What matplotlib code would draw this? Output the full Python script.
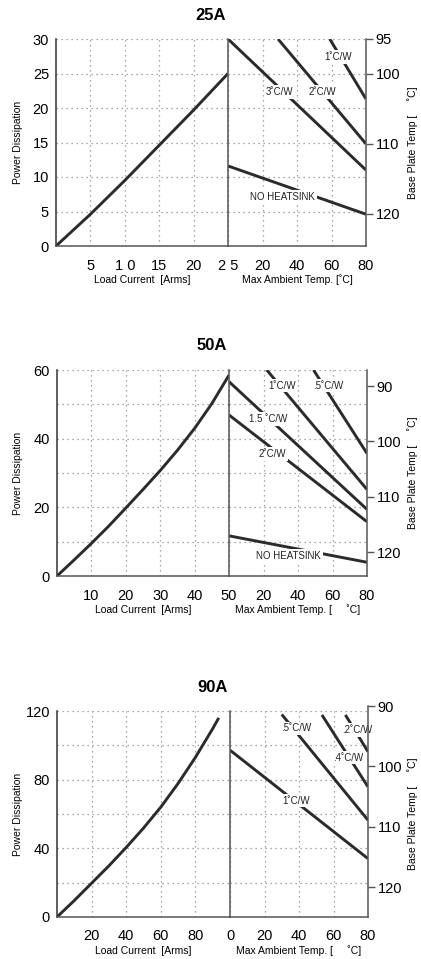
import matplotlib.pyplot as plt

W, H = 421, 959
plt.rcParams['font.family'] = ['Liberation Sans', 'DejaVu Sans']

# ---- data ----
# 25A
p1_current = [0, 5, 10, 15, 20, 25]
p1_power = [0, 4.6, 9.5, 14.6, 19.7, 25]
p1_lines = {
    '3˚C/W': ([0, 80], [30, 11.0]),
    '2˚C/W': ([29, 80], [30, 14.8]),
    '1˚C/W': ([59, 80], [30, 21.3]),
    'NO HEATSINK': ([0, 80], [11.6, 4.6]),
}
p1_labels = {'3˚C/W': (29.6, 22.3), '2˚C/W': (54.8, 22.3), '1˚C/W': (64, 27.4),
             'NO HEATSINK': (31.6, 7.1)}

# 50A
p2_current = [0, 5, 10, 15, 20, 25, 30, 35, 40, 45, 50]
p2_power = [0, 4.7, 9.5, 14.5, 19.8, 25.2, 30.7, 36.6, 43.0, 50.2, 58.5]
p2_lines = {
    '.5˚C/W': ([49, 80], [60, 35.7]),
    '1˚C/W': ([21.9, 80], [60, 25.2]),
    '1.5 ˚C/W': ([0, 80], [56.6, 19.4]),
    '2˚C/W': ([0, 80], [46.9, 15.8]),
    'NO HEATSINK': ([0, 80], [11.7, 4.0]),
}
p2_labels = {'.5˚C/W': (57.8, 55.4), '1˚C/W': (30.6, 55.4), '1.5 ˚C/W': (22.9, 45.7),
             '2˚C/W': (25.4, 35.5), 'NO HEATSINK': (34.5, 5.9)}

# 90A
p3_current = [0, 10, 20, 30, 40, 50, 60, 70, 80, 90, 93.5]
p3_power = [0, 9.6, 19.7, 29.8, 40.5, 51.8, 64, 77.8, 93, 109.7, 116]
p3_lines = {
    '1˚C/W': ([0, 80], [97.2, 34.0]),
    '.5˚C/W': ([30, 80], [118, 56.4]),
    '.4˚C/W': ([53.3, 80], [117.7, 75.8]),
    '.2˚C/W': ([66.9, 80], [117.7, 96.3]),
}
p3_labels = {'1˚C/W': (38.4, 67.7), '.5˚C/W': (38.4, 109.9), '.4˚C/W': (68.4, 92.8),
             '.2˚C/W': (73.6, 108.9)}

panels = [
    dict(title='25A', px=(56, 228, 366, 39, 246), tpx_top=39,
         cur=p1_current, pw=p1_power, lines=p1_lines, labels=p1_labels,
         xmax=25, xgrid=[5, 10, 15, 20, 25], xlab=['5', '1 0', '15', '20', '2 5'],
         ymax=30, ygrid=[0, 5, 10, 15, 20, 25, 30], ylab=['0', '5', '10', '15', '20', '25', '30'],
         rzero='', trange=(124.6, 95), tticks=[95, 100, 110, 120],
         amb='Max Ambient Temp. [˚C]'),
    dict(title='50A', px=(57, 229, 367, 370, 576), tpx_top=370,
         cur=p2_current, pw=p2_power, lines=p2_lines, labels=p2_labels,
         xmax=50, xgrid=[10, 20, 30, 40, 50], xlab=['10', '20', '30', '40', '50'],
         ymax=60, ygrid=[0, 10, 20, 30, 40, 50, 60], ylab=['0', '', '20', '', '40', '', '60'],
         rzero='', trange=(124.3, 87.1), tticks=[90, 100, 110, 120],
         amb='Max Ambient Temp. [     ˚C]'),
    dict(title='90A', px=(57, 230, 368, 711, 917), tpx_top=706,
         cur=p3_current, pw=p3_power, lines=p3_lines, labels=p3_labels,
         xmax=100, xgrid=[20, 40, 60, 80], xlab=['20', '40', '60', '80'],
         ymax=120, ygrid=[0, 20, 40, 60, 80, 100, 120], ylab=['0', '', '40', '', '80', '', '120'],
         rzero='0', trange=(124.9, 90), tticks=[90, 100, 110, 120],
         amb='Max Ambient Temp. [     ˚C]'),
]

fig = plt.figure(figsize=(W / 100, H / 100), dpi=100)
grid_kw = dict(color='#8c8c8c', linestyle=(0, (1, 3)), linewidth=0.9)
line_c = '#2b2b2b'


def rect(x0, x1, top, bottom):
    return [x0 / W, 1 - bottom / H, (x1 - x0) / W, (bottom - top) / H]


for p in panels:
    L, D, R, T, B = p['px']
    axL = fig.add_axes(rect(L, D, T, B))
    axR = fig.add_axes(rect(D, R, T, B))
    axT = fig.add_axes(rect(D, R, p['tpx_top'], B))

    # left: power vs load current
    axL.plot(p['cur'], p['pw'], color=line_c, lw=2.1, solid_capstyle='butt',
             solid_joinstyle='round')
    axL.set_xlim(0, p['xmax'])
    axL.set_ylim(0, p['ymax'])
    axL.set_xticks(p['xgrid'])
    axL.set_xticklabels(p['xlab'])
    axL.set_yticks(p['ygrid'])
    axL.set_yticklabels(p['ylab'])
    axL.tick_params(length=0, labelsize=10.5, pad=5)
    axL.tick_params(axis='x', pad=9)
    axL.grid(True, **grid_kw)
    for s in ['top', 'right']:
        axL.spines[s].set_visible(False)
    axL.spines['left'].set_color('#333333')
    axL.spines['bottom'].set_color('#555555')
    axL.spines['left'].set_linewidth(1.1)
    axL.spines['bottom'].set_linewidth(1.1)

    # right: power vs ambient temperature
    for name, (xs, ys) in p['lines'].items():
        axR.plot(xs, ys, color=line_c, lw=2.1, solid_capstyle='butt')
    for name, (tx, ty) in p['labels'].items():
        axR.text(tx, ty, name, fontsize=7, ha='center', va='center', color='#222222',
                 bbox=dict(facecolor='white', edgecolor='none', pad=1.2), zorder=5)
    axR.set_xlim(0, 80)
    axR.set_ylim(0, p['ymax'])
    axR.set_xticks([0, 20, 40, 60, 80])
    axR.set_xticklabels([p['rzero'], '20', '40', '60', '80'])
    axR.set_yticks(p['ygrid'])
    axR.set_yticklabels([])
    axR.tick_params(length=0, labelsize=10.5, pad=9)
    axR.grid(True, **grid_kw)
    axR.spines['top'].set_visible(False)
    axR.spines['right'].set_visible(False)
    axR.spines['left'].set_color('#555555')
    axR.spines['left'].set_linewidth(1.1)
    axR.spines['bottom'].set_color('#555555')
    axR.spines['bottom'].set_linewidth(1.1)

    # base plate temperature scale (inverted)
    axT.patch.set_visible(False)
    axT.set_ylim(*p['trange'])
    axT.set_yticks(p['tticks'])
    axT.set_xticks([])
    for s in ['top', 'left', 'bottom']:
        axT.spines[s].set_visible(False)
    axT.spines['right'].set_color('#555555')
    axT.spines['right'].set_linewidth(1.1)
    axT.yaxis.tick_right()
    axT.tick_params(axis='y', direction='out', length=5, width=1, color='#555555',
                    labelsize=10.5, pad=2)

    # titles and axis labels
    fig.text((L + R) / 2 / W, 1 - (T - 24) / H, p['title'], ha='center', va='center',
             fontsize=12, fontweight='bold')
    fig.text((L + D) / 2 / W, 1 - (B + 34) / H, 'Load Current  [Arms]',
             ha='center', va='center', fontsize=7.5)
    fig.text((D + R) / 2 / W, 1 - (B + 34) / H, p['amb'],
             ha='center', va='center', fontsize=7.5)
    fig.text(18 / W, 1 - (T + B) / 2 / H, 'Power Dissipation', rotation=90,
             ha='center', va='center', fontsize=7.5)
    fig.text(413 / W, 1 - (T + B) / 2 / H, 'Base Plate Temp [     ˚C]', rotation=90,
             ha='center', va='center', fontsize=7.5)

fig.savefig('out.png', dpi=100)
